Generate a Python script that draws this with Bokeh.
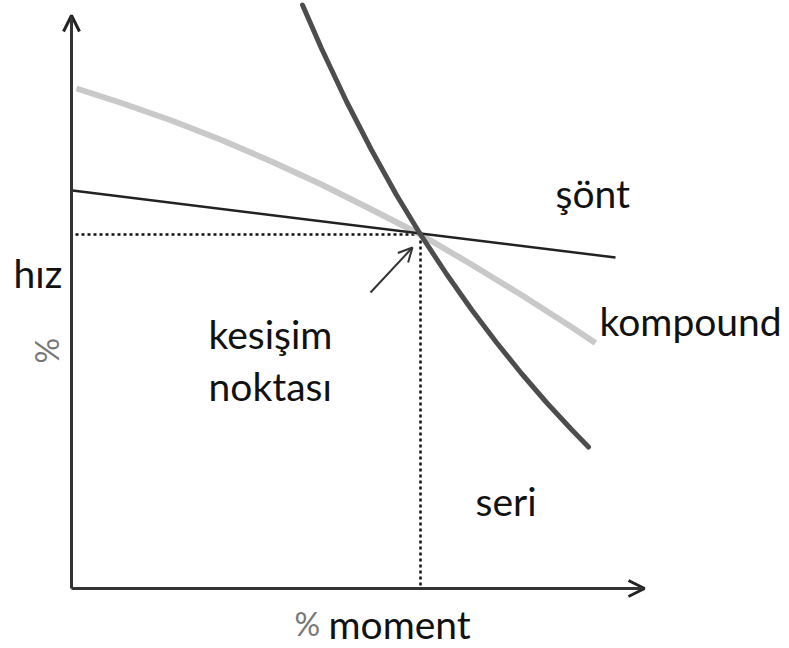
from bokeh.plotting import figure
from bokeh.models import Range1d, Arrow, OpenHead, Label
from bokeh.embed import file_html
from bokeh.resources import INLINE
import math

# Data (schematic units: % moment vs % speed)
compound_x = [1, 10, 20, 30, 40, 50, 60, 69.8, 80, 90, 100, 104.8]
compound_y = [100.0, 97.1, 93.6, 89.7, 85.4, 80.8, 75.8, 70.8, 64.8, 58.7, 52.3, 49.1]

series_x = [46.2, 50, 55, 60, 65, 69.8, 75, 80, 85, 90, 95, 100, 103.4]
series_y = [116.7, 108.0, 97.4, 87.7, 78.7, 70.8, 62.9, 55.8, 49.2, 43.0, 37.2, 31.8, 28.3]

shunt_x = [0.2, 108.8]
shunt_y = [79.6, 66.2]

cross_x = 69.8
cross_y = 70.8

axis_x_max = 114.6
axis_y_max = 114.6

FONT = "Lato"
FS = "39px"

p = figure(width=789, height=648, output_backend="svg", toolbar_location=None,
           x_range=Range1d(-14.2, 143.6), y_range=Range1d(-12, 117.6),
           min_border=0, outline_line_color=None)
p.xaxis.visible = False
p.yaxis.visible = False
p.xgrid.visible = False
p.ygrid.visible = False
p.background_fill_color = "white"
p.border_fill_color = "white"

# dotted guide lines
p.line([0.8, cross_x], [cross_y, cross_y], line_color="#111", line_width=2.5, line_dash="3 3")
p.line([cross_x, cross_x], [cross_y, 0], line_color="#111", line_width=2.5, line_dash="3 3")

# curves
p.line(compound_x, compound_y, line_color="#c9c9c9", line_width=6)
p.line(shunt_x, shunt_y, line_color="#222222", line_width=2.5)
p.line(series_x, series_y, line_color="#4d4d4d", line_width=5, line_cap="round")

# axes with arrows
p.add_layout(Arrow(end=OpenHead(size=16, line_width=3, line_color="#222"),
                   x_start=0, y_start=0, x_end=0, y_end=axis_y_max,
                   line_width=3, line_color="#333"))
p.add_layout(Arrow(end=OpenHead(size=16, line_width=3, line_color="#222"),
                   x_start=0, y_start=0, x_end=axis_x_max, y_end=0,
                   line_width=3, line_color="#333"))

# pointer arrow to intersection
p.add_layout(Arrow(end=OpenHead(size=14, line_width=2, line_color="#333"),
                   x_start=59.8, y_start=59.2, x_end=68.2, y_end=68.2,
                   line_width=2, line_color="#333"))

def lab(x, y, t, color="#111", size=FS, angle=0):
    p.add_layout(Label(x=x, y=y, text=t, text_font=FONT, text_font_size=size,
                       text_color=color, angle=angle, text_baseline="alphabetic"))

lab(96.8, 79.2, "şönt")
lab(105.6, 53.6, "kompound")
lab(80.8, 17.6, "seri")
lab(27.4, 51.0, "kesişim")
lab(27.4, 40.6, "noktası")
lab(-11.6, 63.2, "hız")
lab(-5.0, 45.0, "%", color="#777", size="32px", angle=math.pi / 2)
lab(44.6, -7.0, "%", color="#777", size="32px")
lab(51.4, -7.0, "moment")

open("out.html", "w").write(file_html(p, INLINE))
